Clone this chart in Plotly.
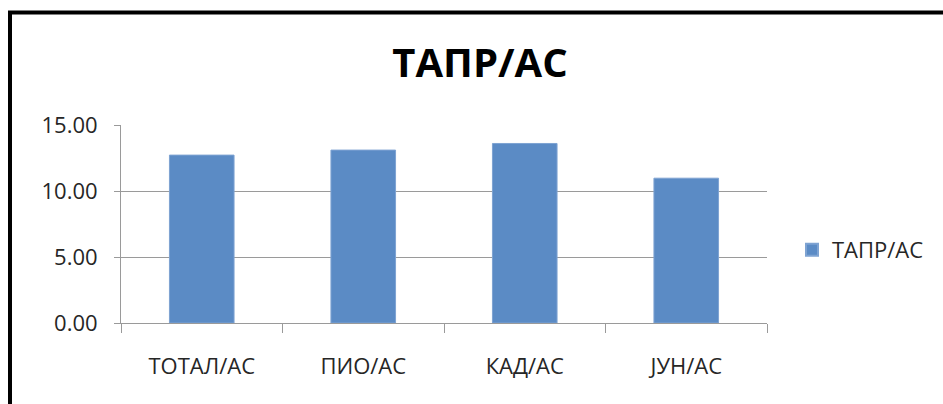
import plotly.graph_objects as go

categories = ["ТОТАЛ/АС", "ПИО/АС", "КАД/АС", "ЈУН/АС"]
values = [12.72, 13.10, 13.60, 10.97]
series_name = "ТАПР/АС"
y_ticks = [0, 5, 10, 15]
y_tick_labels = ["0.00", "5.00", "10.00", "15.00"]

W, H = 943, 404
left, right, top, bottom = 121, 176, 125, 81
plot_w = W - left - right
plot_h = H - top - bottom


def px_to_paper_x(px):
    return (px - left) / plot_w


def px_to_paper_y(py):
    return (H - bottom - py) / plot_h


font_family = "Open Sans, Liberation Sans, sans-serif"
grid_color = "#9a9a9a"
text_color = "#262626"

fig = go.Figure(
    go.Bar(
        x=categories,
        y=values,
        name=series_name,
        marker=dict(color="#5b8bc5", line=dict(color="#7ea3d2", width=1)),
        width=0.4,
        showlegend=True,
    )
)

fig.update_layout(
    width=W,
    height=H,
    margin=dict(l=left, r=right, t=top, b=bottom, pad=0),
    paper_bgcolor="white",
    plot_bgcolor="white",
    font=dict(family=font_family, size=22, color=text_color),
    title=dict(
        text="<b>ТАПР/АС</b>",
        font=dict(family=font_family, size=40, color="black"),
        x=480 / W,
        xanchor="center",
        y=1 - 63 / H,
        yanchor="middle",
        yref="container",
    ),
    showlegend=True,
    legend=dict(
        x=px_to_paper_x(792),
        xanchor="left",
        y=px_to_paper_y(250),
        yanchor="middle",
        font=dict(family=font_family, size=22, color=text_color),
        bgcolor="rgba(0,0,0,0)",
        itemsizing="constant",
    ),
    bargap=0.6,
    xaxis=dict(
        type="category",
        showgrid=False,
        showline=True,
        linecolor=grid_color,
        linewidth=1,
        ticks="outside",
        tickson="boundaries",
        ticklen=9,
        tickcolor=grid_color,
        tickwidth=1,
        ticklabelstandoff=24,
        tickfont=dict(size=22, color=text_color),
        range=[-0.5, 3.5],
    ),
    yaxis=dict(
        range=[0, 15],
        tickvals=y_ticks,
        ticktext=y_tick_labels,
        showgrid=True,
        gridcolor=grid_color,
        gridwidth=1,
        showline=True,
        linecolor=grid_color,
        linewidth=1,
        ticks="outside",
        ticklen=6,
        tickcolor=grid_color,
        tickwidth=1,
        ticklabelstandoff=12,
        tickfont=dict(size=22, color=text_color),
        zeroline=False,
    ),
)

# Black frame around the whole chart (its right and bottom edges run past the page)
fig.add_shape(
    type="rect",
    xref="paper",
    yref="paper",
    x0=px_to_paper_x(10),
    x1=px_to_paper_x(980),
    y0=px_to_paper_y(440),
    y1=px_to_paper_y(12.5),
    line=dict(color="black", width=4),
    fillcolor="rgba(0,0,0,0)",
    layer="above",
)

fig.write_html("out.html")
